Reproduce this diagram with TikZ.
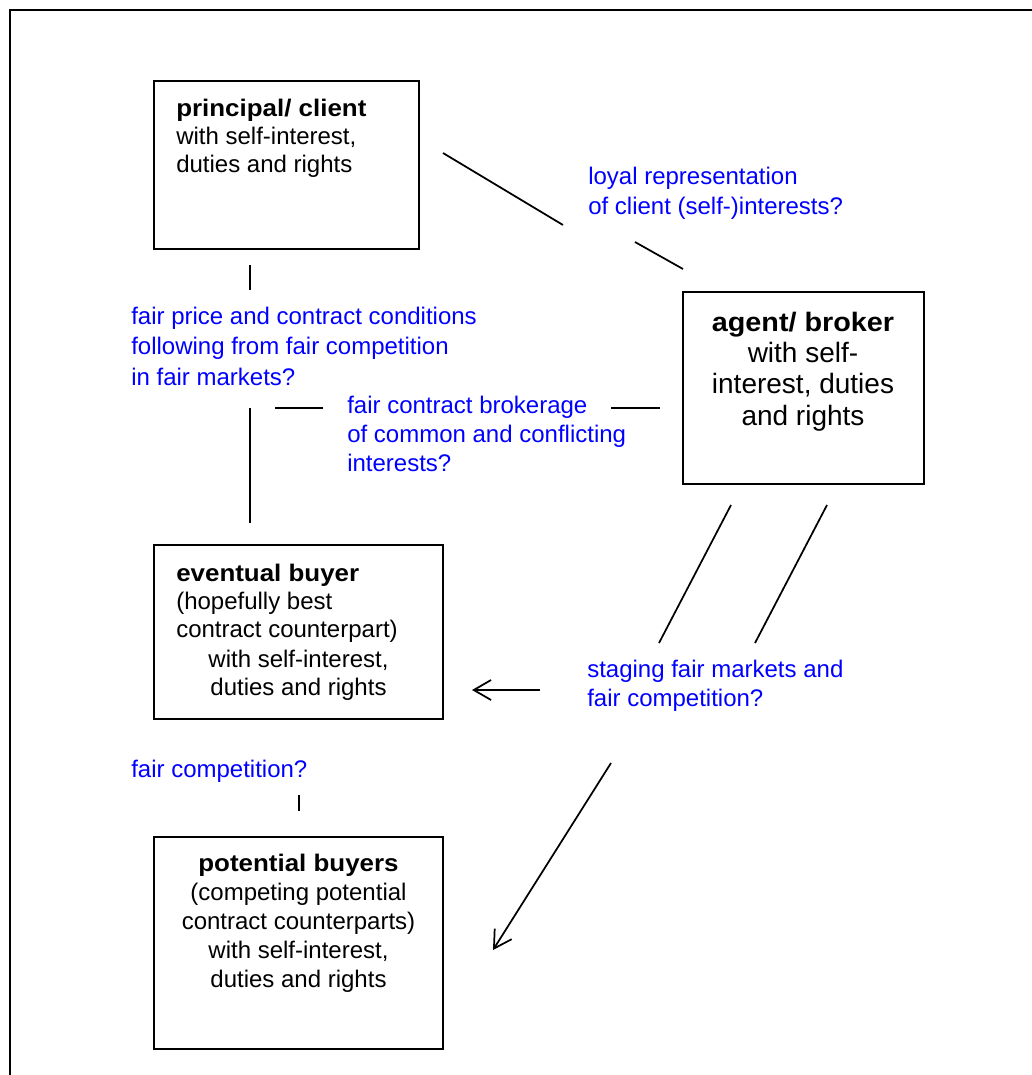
\documentclass[tikz,border=0pt]{standalone}
\usepackage{fontspec}
\setmainfont{Liberation Sans}[BoldFeatures={FakeStretch=1.08}]
\usetikzlibrary{arrows.meta,fit}

\begin{document}
\begin{tikzpicture}[x=0.75pt,y=-0.75pt,
  box/.style={draw, line width=1.4pt, inner sep=0pt},
  txt/.style={inner sep=0pt, font=\fontsize{18pt}{21pt}\selectfont},
  txtbig/.style={inner sep=0pt, font=\fontsize{21pt}{23.5pt}\selectfont},
  lbl/.style={inner sep=0pt, text=blue, align=left, font=\fontsize{18pt}{22pt}\selectfont},
  link/.style={line width=1.3pt},
  arrowlink/.style={link, -{Straight Barb[length=13pt,width=15pt,line width=1.3pt]}}]

\useasboundingbox (0,0) rectangle (1032,1075);

% page frame (continues past the right and bottom edges)
\draw[line width=1.4pt] (10,1090) -- (10,10) -- (1045,10);

% parties (text nodes are placed by the baseline of their last line)
\node[box, fit={(154,81) (419,249)}] (client) {};
\node[txt, anchor=base west, align=left] (clientT) at (176,172)
  {\textbf{principal/ client}\\with self-interest,\\duties and rights};

\node[box, fit={(683,292) (924,484)}] (agent) {};
\node[txtbig, anchor=base, align=center] (agentT) at (803,425)
  {{\fontsize{20pt}{24.5pt}\selectfont\textbf{agent/ broker}}\\with self-\\interest, duties\\and rights};

\node[box, fit={(154,545) (443,719)}] (buyer) {};
\node[txt, anchor=base west, align=left] (buyerT) at (176,637)
  {\textbf{eventual buyer}\\(hopefully best\\contract counterpart)};
\node[txt, anchor=base, align=center] (buyerT2) at (298.5,695)
  {with self-interest,\\duties and rights};

\node[box, fit={(154,837) (443,1049)}] (potential) {};
\node[txt, anchor=base, align=center, font=\fontsize{18pt}{21.7pt}\selectfont] (potentialT) at (298.5,987)
  {\textbf{potential buyers}\\(competing potential\\contract counterparts)\\with self-interest,\\duties and rights};

% questions
\node[lbl, anchor=base west] (loyal) at (588,214)
  {loyal representation\\of client (self-)interests?};
\node[lbl, anchor=base west, font=\fontsize{18pt}{22.7pt}\selectfont] (fairprice) at (131,385)
  {fair price and contract conditions\\following from fair competition\\in fair markets?};
\node[lbl, anchor=base west, font=\fontsize{18pt}{21.7pt}\selectfont] (brokerage) at (347,471)
  {fair contract brokerage\\of common and conflicting\\interests?};
\node[lbl, anchor=base west, font=\fontsize{18pt}{21.5pt}\selectfont] (staging) at (587,706)
  {staging fair markets and\\fair competition?};
\node[lbl, anchor=base west] (faircomp) at (131,777) {fair competition?};

% connector pieces
\coordinate (ca1) at (443,153);  \coordinate (ca2) at (563,225);
\coordinate (ca3) at (635,242);  \coordinate (ca4) at (683,269);
\coordinate (cb1) at (250,265);  \coordinate (cb2) at (250,290);
\coordinate (cb3) at (250,408);  \coordinate (cb4) at (250,523);
\coordinate (cc1) at (275,408);  \coordinate (cc2) at (323,408);
\coordinate (cc3) at (611,408);  \coordinate (cc4) at (660,408);
\coordinate (cd1) at (731,505);  \coordinate (cd2) at (659,643);
\coordinate (cd3) at (827,505);  \coordinate (cd4) at (755,643);
\coordinate (ce1) at (540,690);  \coordinate (ce2) at (472,690);
\coordinate (cf1) at (611,763);  \coordinate (cf2) at (493,950);
\coordinate (cg1) at (299,795);  \coordinate (cg2) at (299,811);

\draw[link] (ca1) -- (ca2);
\draw[link] (ca3) -- (ca4);
\draw[link] (cb1) -- (cb2);
\draw[link] (cb3) -- (cb4);
\draw[link] (cc1) -- (cc2);
\draw[link] (cc3) -- (cc4);
\draw[link] (cd1) -- (cd2);
\draw[link] (cd3) -- (cd4);
\draw[arrowlink] (ce1) -- (ce2);
\draw[arrowlink] (cf1) -- (cf2);
\draw[link] (cg1) -- (cg2);
\end{tikzpicture}
\end{document}
